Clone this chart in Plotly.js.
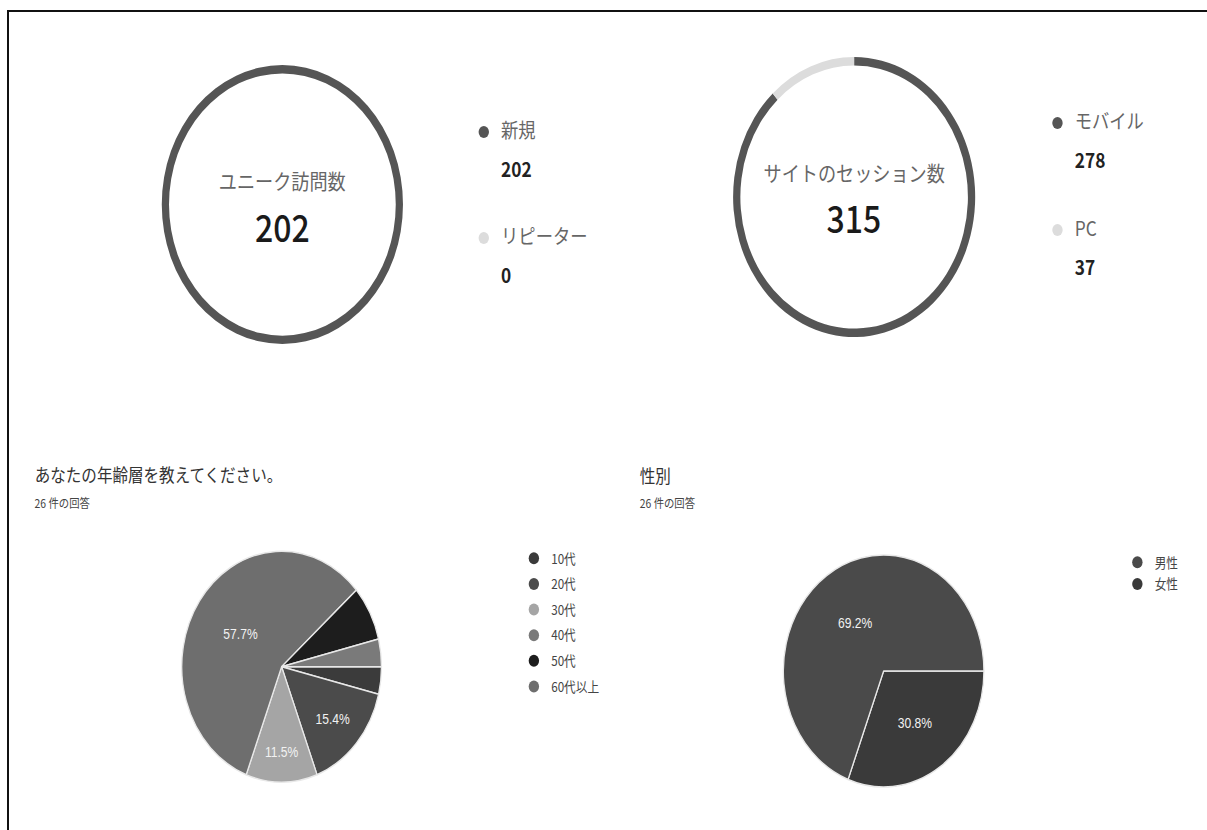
<!DOCTYPE html>
<html><head><meta charset="utf-8">
<script src="https://cdn.plot.ly/plotly-3.0.1.min.js"></script>
<style>
html,body{margin:0;padding:0;background:#fff;overflow:hidden;width:1207px;height:830px;}
#wrap{position:absolute;left:0;top:0;width:1207px;height:830px;overflow:hidden;}
#chart{position:absolute;left:0;top:0;width:1396px;height:830px;transform:scaleX(0.8646);transform-origin:0 0;}
#topline{position:absolute;left:7px;top:10px;width:1200px;height:2px;background:#111;pointer-events:none;}
#leftline{position:absolute;left:7px;top:10px;width:2px;height:820px;background:#111;pointer-events:none;}
</style></head><body>
<div id="wrap"><div id="chart"></div><div id="topline"></div><div id="leftline"></div></div>
<script>
// ---- data ----
const visitTitle = 'ユニーク訪問数';
const visitLabels = ['新規', 'リピーター'];
const visitValues = [202, 0];

const sessionTitle = 'サイトのセッション数';
const sessionLabels = ['モバイル', 'PC'];
const sessionValues = [278, 37];

const ageQuestion = 'あなたの年齢層を教えてください。';
const ageLabels = ['10代', '20代', '30代', '40代', '50代', '60代以上'];
const ageCounts = [1, 4, 3, 1, 2, 15];
const ageSliceOrder = ['10代', '20代', '30代', '60代以上', '50代', '40代'];

const genderQuestion = '性別';
const genderLabels = ['男性', '女性'];
const genderCounts = [18, 8];
const genderSliceOrder = ['女性', '男性'];

const answersSuffix = ' 件の回答';

// ---- styles ----
const JP = '"Noto Sans CJK JP", "Noto Sans", sans-serif';
const twoTone = ['#555555', '#dcdcdc'];
const ageColors = ['#3b3b3b', '#4b4b4b', '#a5a5a5', '#7a7a7a', '#1d1d1d', '#6e6e6e'];
const genderColors = ['#4a4a4a', '#3a3a3a'];

const dom = {
  visit:   {x: [0.13403, 0.33388], y: [0.58554, 0.92168]},
  session: {x: [0.60738, 0.80795], y: [0.59398, 0.93132]},
  age:     {x: [0.15057, 0.31605], y: [0.05759, 0.33591]},
  gender:  {x: [0.64900, 0.81519], y: [0.05181, 0.33133]}
};
const sum = a => a.reduce((p, c) => p + c, 0);
const cx = d => (d.x[0] + d.x[1]) / 2;

const traces = [];
// donuts
traces.push({type: 'pie', labels: visitLabels, values: visitValues, hole: 0.94, sort: false,
  direction: 'clockwise', rotation: 0, domain: dom.visit, textinfo: 'none', showlegend: false,
  marker: {colors: twoTone, line: {width: 0}}, hoverinfo: 'skip'});
traces.push({type: 'pie', labels: sessionLabels, values: sessionValues, hole: 0.94, sort: false,
  direction: 'clockwise', rotation: 0, domain: dom.session, textinfo: 'none', showlegend: false,
  marker: {colors: twoTone, line: {width: 0}}, hoverinfo: 'skip'});

// age pie
const ageTotal = sum(ageCounts);
const ageVals = ageSliceOrder.map(l => ageCounts[ageLabels.indexOf(l)]);
const ageCols = ageSliceOrder.map(l => ageColors[ageLabels.indexOf(l)]);
traces.push({type: 'pie', labels: ageSliceOrder, values: ageVals, sort: false,
  direction: 'clockwise', rotation: 90, domain: dom.age, showlegend: false,
  texttemplate: ageVals.map(v => v / ageTotal >= 0.1 ? '%{percent:.1%}' : ''),
  textposition: 'inside', insidetextorientation: 'horizontal',
  textfont: {family: '"Liberation Sans", Arial, sans-serif', size: 14, color: '#f2f2f2'},
  marker: {colors: ageCols, line: {color: '#e8e8e8', width: 1.5}}, hoverinfo: 'skip'});

// gender pie
const genderTotal = sum(genderCounts);
const genderVals = genderSliceOrder.map(l => genderCounts[genderLabels.indexOf(l)]);
const genderCols = genderSliceOrder.map(l => genderColors[genderLabels.indexOf(l)]);
traces.push({type: 'pie', labels: genderSliceOrder, values: genderVals, sort: false,
  direction: 'clockwise', rotation: 90, domain: dom.gender, showlegend: false,
  texttemplate: genderVals.map(v => v / genderTotal >= 0.1 ? '%{percent:.1%}' : ''),
  textposition: 'inside', insidetextorientation: 'horizontal',
  textfont: {family: '"Liberation Sans", Arial, sans-serif', size: 14, color: '#f2f2f2'},
  marker: {colors: genderCols, line: {color: '#e8e8e8', width: 1.5}}, hoverinfo: 'skip'});

// legend entries (circle markers)
function legendEntry(name, color, legend, size) {
  return {type: 'scatter', mode: 'markers', x: [null], y: [null], name: name, legend: legend,
    legendgroup: legend + name, showlegend: true, hoverinfo: 'skip',
    marker: {color: color, size: size, symbol: 'circle'}};
}
const blank = '\u00a0';
const twoLine = (l, v) => '<span style="font-size:20px;color:#666">' + l + '</span><br>' + blank +
  '<br><span style="font-size:20px;color:#222;font-weight:600">' + v + '</span>';
visitLabels.forEach((l, i) => traces.push(legendEntry(twoLine(l, visitValues[i]), twoTone[i], 'legend', 12)));
sessionLabels.forEach((l, i) => traces.push(legendEntry(twoLine(l, sessionValues[i]), twoTone[i], 'legend2', 12)));
ageLabels.forEach((l, i) => traces.push(legendEntry(l, ageColors[i], 'legend3', 12)));
genderLabels.forEach((l, i) => traces.push(legendEntry(l, genderColors[i], 'legend4', 12)));

const baseLegend = {xanchor: 'left', yanchor: 'top', bgcolor: 'rgba(0,0,0,0)', traceorder: 'grouped',
  itemclick: false, itemdoubleclick: false, borderwidth: 0};

const layout = {
  width: 1396, height: 830,
  margin: {l: 0, r: 0, t: 0, b: 0},
  paper_bgcolor: '#ffffff', plot_bgcolor: '#ffffff',
  font: {family: JP, color: '#444'},
  xaxis: {visible: false}, yaxis: {visible: false},
  legend:  Object.assign({}, baseLegend, {x: 0.3865, y: 0.8605, valign: 'top', tracegroupgap: 44.5, font: {family: JP, size: 15}}),
  legend2: Object.assign({}, baseLegend, {x: 0.8618, y: 0.8714, valign: 'top', tracegroupgap: 45.5, font: {family: JP, size: 15}}),
  legend3: Object.assign({}, baseLegend, {x: 0.4280, y: 0.3458, tracegroupgap: 5.1, font: {family: JP, size: 13.5, color: '#444'}}),
  legend4: Object.assign({}, baseLegend, {x: 0.9280, y: 0.3410, tracegroupgap: 1.1, font: {family: JP, size: 13.5, color: '#444'}}),
  annotations: [
    {text: visitTitle, x: cx(dom.visit), y: 0.78313, xref: 'paper', yref: 'paper', showarrow: false,
      xanchor: 'center', yanchor: 'middle', font: {family: JP, size: 21, color: '#666'}},
    {text: String(sum(visitValues)), x: cx(dom.visit), y: 0.72771, xref: 'paper', yref: 'paper', showarrow: false,
      xanchor: 'center', yanchor: 'middle', font: {family: JP, size: 37, color: '#1a1a1a', weight: 500}},
    {text: sessionTitle, x: cx(dom.session), y: 0.79277, xref: 'paper', yref: 'paper', showarrow: false,
      xanchor: 'center', yanchor: 'middle', font: {family: JP, size: 21, color: '#666'}},
    {text: String(sum(sessionValues)), x: cx(dom.session), y: 0.73855, xref: 'paper', yref: 'paper', showarrow: false,
      xanchor: 'center', yanchor: 'middle', font: {family: JP, size: 37, color: '#1a1a1a', weight: 500}},
    {text: ageQuestion, x: 0.02736, y: 0.42892, xref: 'paper', yref: 'paper', showarrow: false,
      xanchor: 'left', yanchor: 'middle', font: {family: JP, size: 18, color: '#333'}},
    {text: ageTotal + answersSuffix, x: 0.02736, y: 0.39518, xref: 'paper', yref: 'paper', showarrow: false,
      xanchor: 'left', yanchor: 'middle', font: {family: JP, size: 12, color: '#444'}},
    {text: genderQuestion, x: 0.52837, y: 0.42771, xref: 'paper', yref: 'paper', showarrow: false,
      xanchor: 'left', yanchor: 'middle', font: {family: JP, size: 18, color: '#333'}},
    {text: genderTotal + answersSuffix, x: 0.52837, y: 0.39518, xref: 'paper', yref: 'paper', showarrow: false,
      xanchor: 'left', yanchor: 'middle', font: {family: JP, size: 12, color: '#444'}}
  ]
};

Plotly.newPlot('chart', traces, layout, {staticPlot: true, displayModeBar: false, responsive: false});
</script>
</body></html>
